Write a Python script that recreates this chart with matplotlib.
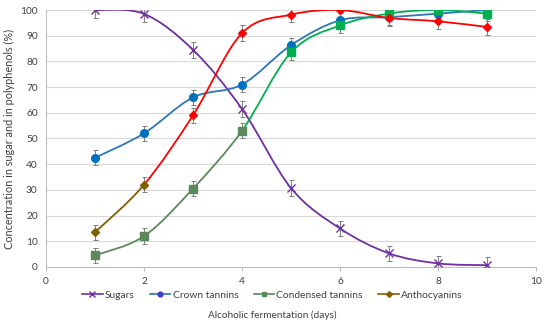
import numpy as np
import matplotlib
matplotlib.use('Agg')
import matplotlib.pyplot as plt
from matplotlib.path import Path
from matplotlib.patches import PathPatch
from matplotlib.lines import Line2D

plt.rcParams['font.family'] = ['Lato', 'DejaVu Sans']

# data
days = [1, 2, 3, 4, 5, 6, 7, 8, 9]
sugars = [100, 98.5, 84.5, 61.5, 30.7, 15, 5.3, 1.4, 0.7]
crown = [42.5, 52, 66, 71, 86.3, 96, 97.2, 98.6, 100]
condensed = [4.5, 12, 30.5, 53, 83.5, 94, 98.6, 100, 98.6]
antho = [13.5, 32, 59, 91, 98.2, 100, 96.9, 95.6, 93.4]
err = 3

def smooth_path(x, y, i0, i1):
    # Catmull-Rom style bezier through the points, like Excel smoothed lines
    pts = np.column_stack([x, y]).astype(float)
    verts = [pts[i0]]
    codes = [Path.MOVETO]
    n = len(pts)
    for i in range(i0, i1):
        p0 = pts[max(i - 1, 0)]
        p1 = pts[i]
        p2 = pts[i + 1]
        p3 = pts[min(i + 2, n - 1)]
        c1 = p1 + (p2 - p0) / 6.0
        c2 = p2 - (p3 - p1) / 6.0
        verts += [c1, c2, p2]
        codes += [Path.CURVE4] * 3
    return Path(verts, codes)

fig = plt.figure(figsize=(5.5, 3.28), dpi=100)
ax = fig.add_axes([0.0836, 0.186, 0.891, 0.7835])

purple = '#7030a0'
blue_line = '#2e75b6'
blue_mk = '#0070c0'
olive = '#5a8a5a'
green = '#00b050'
brown = '#7f6000'
red = '#ff0000'

def draw_curve(y, i0, i1, color):
    ax.add_patch(PathPatch(smooth_path(days, y, i0, i1), facecolor='none',
                           edgecolor=color, lw=1.3, zorder=3))

# lines
draw_curve(sugars, 0, 8, purple)
draw_curve(crown, 0, 8, blue_line)
draw_curve(condensed, 0, 3, olive)
draw_curve(condensed, 3, 8, green)
draw_curve(antho, 0, 1, brown)
draw_curve(antho, 1, 8, red)

# error bars
for y in [sugars, crown, condensed, antho]:
    ax.errorbar(days, y, yerr=err, fmt='none', ecolor='#7f7f7f', elinewidth=0.7,
                capsize=1.8, capthick=0.7, zorder=2)

# markers
ax.plot(days, sugars, 'x', color=purple, ms=6, mew=1.0, zorder=4)
ax.plot(days, crown, 'o', color=blue_mk, ms=5.5, zorder=4)
ax.plot(days[:4], condensed[:4], 's', color=olive, ms=5.5, zorder=4)
ax.plot(days[4:], condensed[4:], 's', color=green, ms=5.5, zorder=4)
ax.plot(days[:2], antho[:2], 'D', color=brown, ms=4.2, zorder=4)
ax.plot(days[2:], antho[2:], 'D', color=red, ms=4.2, zorder=4)

ax.set_xlim(0, 10)
ax.set_ylim(0, 100)
ax.set_xticks(np.arange(0, 11, 2))
ax.set_yticks(np.arange(0, 101, 10))
ax.yaxis.grid(True, color='#d9d9d9', lw=0.8)
ax.set_axisbelow(True)
for s in ['top', 'right']:
    ax.spines[s].set_visible(False)
for s in ['left', 'bottom']:
    ax.spines[s].set_color('#bfbfbf')
ax.tick_params(axis='both', labelsize=7.3, colors='#404040', length=0, pad=6)
ax.tick_params(axis='x', length=3, color='#bfbfbf', direction='out', pad=4)
ax.set_ylabel('Concentration in sugar and in polyphenols (%)', fontsize=7.8, color='#404040', labelpad=4)
fig.text(0.495, 0.04, 'Alcoholic fermentation (days)', fontsize=7.2, color='#404040',
         ha='center', va='center')

handles = [
    Line2D([], [], color=purple, marker='x', ms=4, lw=1.2),
    Line2D([], [], color=blue_line, marker='o', markerfacecolor='#4040c0', markeredgecolor='#4040c0', ms=3.5, lw=1.2),
    Line2D([], [], color=olive, marker='s', ms=3.5, lw=1.2),
    Line2D([], [], color=brown, marker='D', ms=3, lw=1.2),
]
labels = ['Sugars', 'Crown tannins', 'Condensed tannins', 'Anthocyanins']
leg = fig.legend(handles, labels, loc='center', bbox_to_anchor=(0.495, 0.1), ncol=4,
                 frameon=False, fontsize=7.4, handlelength=2.0, handletextpad=0.2,
                 columnspacing=1.5)
for t in leg.get_texts():
    t.set_color('#404040')

fig.savefig('out.png', dpi=100)
